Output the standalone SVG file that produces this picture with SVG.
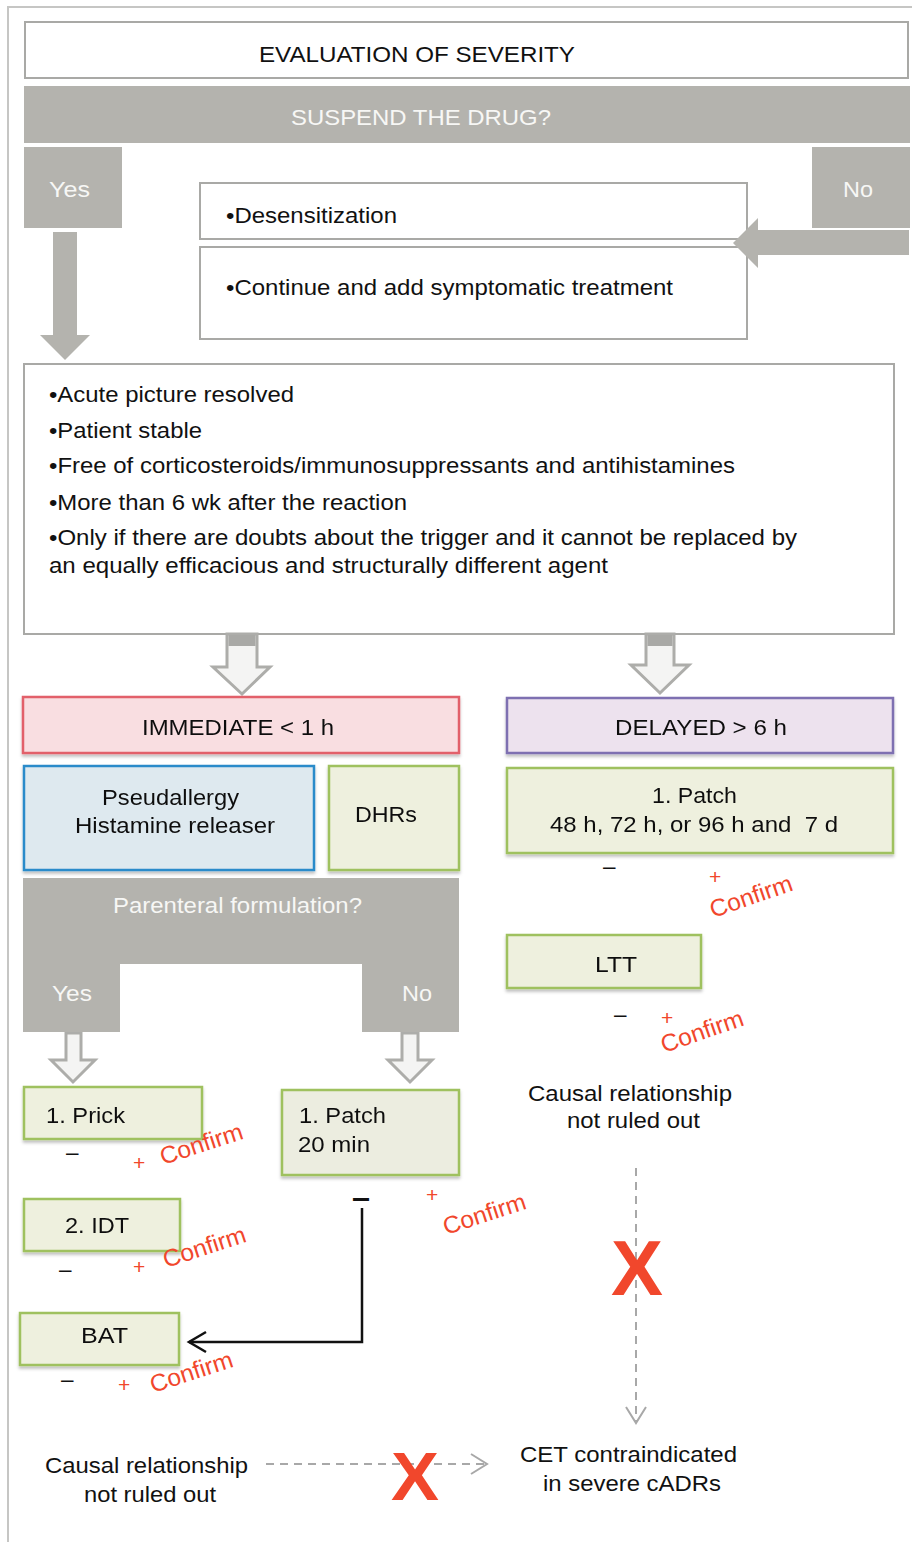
<svg xmlns="http://www.w3.org/2000/svg" width="912" height="1542" viewBox="0 0 912 1542">
<defs>
<style>
.t{font-family:"Liberation Sans",Arial,Helvetica,sans-serif;font-size:22.5px;fill:#111}
.tw{font-family:"Liberation Sans",Arial,Helvetica,sans-serif;font-size:22.5px;fill:#f7f7f5}
.red{font-family:"Liberation Sans",Arial,Helvetica,sans-serif;font-size:24px;fill:#f1472c}
.pl{font-family:"Liberation Sans",Arial,Helvetica,sans-serif;font-size:21px;fill:#f1472c}
.bx{font-family:"Liberation Sans",Arial,Helvetica,sans-serif;font-weight:bold;fill:#f1472c}
.wbox{fill:#fff;stroke:#a9a9a6;stroke-width:2}
.gbar{fill:#b4b3ae}
.green{fill:#eef0de;stroke:#9fc15e;stroke-width:2.5}
.hollow{fill:#f4f4f3;stroke:#adadaa;stroke-width:3;stroke-linejoin:miter}
.dash{fill:none;stroke:#a8a8a8;stroke-width:2;stroke-dasharray:8 6}
</style>
<filter id="sh" x="-10%" y="-10%" width="120%" height="130%">
<feDropShadow dx="0" dy="2.5" stdDeviation="1.5" flood-color="#000" flood-opacity="0.25"/>
</filter>
<marker id="blk" markerUnits="userSpaceOnUse" markerWidth="22" markerHeight="24" viewBox="0 0 22 24" refX="19" refY="12" orient="auto">
<path d="M2,2 L19,12 L2,22" fill="none" stroke="#111" stroke-width="2.5"/>
</marker>
<marker id="gry" markerUnits="userSpaceOnUse" markerWidth="20" markerHeight="24" viewBox="0 0 20 24" refX="17" refY="12" orient="auto">
<path d="M1,2 L17,12 L1,22" fill="none" stroke="#a8a8a8" stroke-width="2"/>
</marker>
</defs>

<rect width="912" height="1542" fill="#fff"/>
<path d="M912,7 H8 V1542" fill="none" stroke="#c6c6c4" stroke-width="2"/>

<g id="evaluation">
<rect class="wbox" x="25" y="22" width="883" height="56"/>
<text class="t" x="259" y="62" textLength="316" lengthAdjust="spacingAndGlyphs">EVALUATION OF SEVERITY</text>
</g>

<g id="suspend">
<rect class="gbar" x="24" y="86" width="886" height="57"/>
<text class="tw" x="291" y="125" textLength="260" lengthAdjust="spacingAndGlyphs">SUSPEND THE DRUG?</text>
</g>

<g id="yes-top">
<rect class="gbar" x="24" y="147" width="98" height="81"/>
<text class="tw" x="49" y="197" textLength="41" lengthAdjust="spacingAndGlyphs">Yes</text>
</g>

<g id="no-top">
<rect class="gbar" x="812" y="147" width="98" height="81"/>
<text class="tw" x="843" y="197" textLength="30" lengthAdjust="spacingAndGlyphs">No</text>
</g>

<g id="desensitization">
<rect class="wbox" x="200" y="183" width="547" height="56"/>
<text class="t" x="226" y="223" textLength="171" lengthAdjust="spacingAndGlyphs">•Desensitization</text>
</g>

<g id="continue">
<rect class="wbox" x="200" y="247" width="547" height="92"/>
<text class="t" x="226" y="295" textLength="447" lengthAdjust="spacingAndGlyphs">•Continue and add symptomatic treatment</text>
</g>

<g id="criteria">
<rect class="wbox" x="24" y="364" width="870" height="270"/>
<text class="t" x="49" y="402" textLength="245" lengthAdjust="spacingAndGlyphs">•Acute picture resolved</text>
<text class="t" x="49" y="438" textLength="153" lengthAdjust="spacingAndGlyphs">•Patient stable</text>
<text class="t" x="49" y="473" textLength="686" lengthAdjust="spacingAndGlyphs">•Free of corticosteroids/immunosuppressants and antihistamines</text>
<text class="t" x="49" y="510" textLength="358" lengthAdjust="spacingAndGlyphs">•More than 6 wk after the reaction</text>
<text class="t" x="49" y="545" textLength="748" lengthAdjust="spacingAndGlyphs">•Only if there are doubts about the trigger and it cannot be replaced by</text>
<text class="t" x="49" y="573" textLength="559" lengthAdjust="spacingAndGlyphs">an equally efficacious and structurally different agent</text>
</g>

<g id="connectors">
<path d="M53,232 H77 V335 H90 L65,360 L40,335 H53 Z" fill="#b4b3ae"/>
<path d="M909,230 V255 H758 V268 L733,243 L758,218 V230 Z" fill="#b4b3ae"/>
<path class="hollow" d="M227,634 H257 V667 H270 L242,694 L213,667 H227 Z"/>
<rect x="228.5" y="635" width="27" height="11" fill="#a9a9a6"/>
<path class="hollow" d="M646,634 H674 V665 H689 L660,693 L631,665 H646 Z"/>
<rect x="647.5" y="635" width="25" height="11" fill="#a9a9a6"/>
<path class="hollow" d="M66,1033 H81 V1060 H95 L73,1082 L51,1060 H66 Z"/>
<path class="hollow" d="M402,1033 H418 V1060 H432 L410,1082 L388,1060 H402 Z"/>
<polyline points="362,1208 362,1342 189,1342" fill="none" stroke="#111" stroke-width="2.5" marker-end="url(#blk)"/>
<line class="dash" x1="636" y1="1168" x2="636" y2="1423" marker-end="url(#gry)"/>
<line class="dash" x1="266" y1="1464" x2="487" y2="1464" marker-end="url(#gry)"/>
</g>

<g id="immediate" filter="url(#sh)">
<rect x="23" y="697" width="436" height="56" fill="#f9dee1" stroke="#e2606a" stroke-width="2.5"/>
<text class="t" x="142" y="735" textLength="192" lengthAdjust="spacingAndGlyphs">IMMEDIATE &lt; 1 h</text>
</g>

<g id="pseudallergy" filter="url(#sh)">
<rect x="24" y="766" width="290" height="104" fill="#dee9ef" stroke="#2c8bca" stroke-width="2.5"/>
<text class="t" x="102" y="805" textLength="137" lengthAdjust="spacingAndGlyphs">Pseudallergy</text>
<text class="t" x="75" y="833" textLength="200" lengthAdjust="spacingAndGlyphs">Histamine releaser</text>
</g>

<g id="dhrs" filter="url(#sh)">
<rect class="green" x="329" y="766" width="130" height="104"/>
<text class="t" x="355" y="822" textLength="62" lengthAdjust="spacingAndGlyphs">DHRs</text>
</g>

<g id="parenteral">
<path class="gbar" d="M23,878 H459 V1032 H362 V964 H120 V1032 H23 Z"/>
<text class="tw" x="113" y="913" textLength="249" lengthAdjust="spacingAndGlyphs">Parenteral formulation?</text>
<text class="tw" x="52" y="1001" textLength="40" lengthAdjust="spacingAndGlyphs">Yes</text>
<text class="tw" x="402" y="1001" textLength="30" lengthAdjust="spacingAndGlyphs">No</text>
</g>

<g id="prick" filter="url(#sh)">
<rect class="green" x="24" y="1087" width="178" height="52"/>
<text class="t" x="46" y="1123" textLength="79" lengthAdjust="spacingAndGlyphs">1. Prick</text>
</g>
<g id="prick-results">
<text class="t" x="66" y="1160">–</text>
<text class="pl" x="133" y="1170">+</text>
<text class="red" transform="translate(163,1165) rotate(-18)" textLength="86" lengthAdjust="spacingAndGlyphs">Confirm</text>
</g>

<g id="patch20" filter="url(#sh)">
<rect x="282" y="1090" width="177" height="85" fill="#ecede0" stroke="#9fc15e" stroke-width="2.5"/>
<text class="t" x="299" y="1123" textLength="87" lengthAdjust="spacingAndGlyphs">1. Patch</text>
<text class="t" x="298" y="1152" textLength="72" lengthAdjust="spacingAndGlyphs">20 min</text>
</g>
<g id="patch20-results">
<text class="t" x="352" y="1208" style="font-weight:bold;font-size:30px" textLength="18" lengthAdjust="spacingAndGlyphs">–</text>
<text class="pl" x="426" y="1202">+</text>
<text class="red" transform="translate(446,1235) rotate(-18)" textLength="86" lengthAdjust="spacingAndGlyphs">Confirm</text>
</g>

<g id="idt" filter="url(#sh)">
<rect class="green" x="24" y="1199" width="156" height="52"/>
<text class="t" x="65" y="1233" textLength="64" lengthAdjust="spacingAndGlyphs">2. IDT</text>
</g>
<g id="idt-results">
<text class="t" x="59" y="1277">–</text>
<text class="pl" x="133" y="1274">+</text>
<text class="red" transform="translate(166,1268) rotate(-18)" textLength="86" lengthAdjust="spacingAndGlyphs">Confirm</text>
</g>

<g id="bat" filter="url(#sh)">
<rect class="green" x="20" y="1313" width="159" height="52"/>
<text class="t" x="81" y="1343" textLength="47" lengthAdjust="spacingAndGlyphs">BAT</text>
</g>
<g id="bat-results">
<text class="t" x="61" y="1387">–</text>
<text class="pl" x="118" y="1392">+</text>
<text class="red" transform="translate(153,1393) rotate(-18)" textLength="86" lengthAdjust="spacingAndGlyphs">Confirm</text>
</g>

<g id="delayed" filter="url(#sh)">
<rect x="507" y="698" width="386" height="55" fill="#ede2ee" stroke="#7e6fb1" stroke-width="2.5"/>
<text class="t" x="615" y="735" textLength="172" lengthAdjust="spacingAndGlyphs">DELAYED &gt; 6 h</text>
</g>

<g id="patch-delayed" filter="url(#sh)">
<rect class="green" x="507" y="768" width="386" height="85"/>
<text class="t" x="652" y="803" textLength="85" lengthAdjust="spacingAndGlyphs">1. Patch</text>
<text class="t" x="550" y="832" textLength="288" lengthAdjust="spacingAndGlyphs" xml:space="preserve">48 h, 72 h, or 96 h and  7 d</text>
</g>
<g id="patch-delayed-results">
<text class="t" x="603" y="874">–</text>
<text class="pl" x="709" y="884">+</text>
<text class="red" transform="translate(713,918) rotate(-19)" textLength="86" lengthAdjust="spacingAndGlyphs">Confirm</text>
</g>

<g id="ltt" filter="url(#sh)">
<rect class="green" x="507" y="935" width="194" height="53"/>
<text class="t" x="595" y="972" textLength="42" lengthAdjust="spacingAndGlyphs">LTT</text>
</g>
<g id="ltt-results">
<text class="t" x="614" y="1022">–</text>
<text class="pl" x="661" y="1025">+</text>
<text class="red" transform="translate(664,1053) rotate(-19)" textLength="86" lengthAdjust="spacingAndGlyphs">Confirm</text>
</g>

<g id="causal-right">
<text class="t" x="528" y="1101" textLength="204" lengthAdjust="spacingAndGlyphs">Causal relationship</text>
<text class="t" x="567" y="1128" textLength="133" lengthAdjust="spacingAndGlyphs">not ruled out</text>
</g>

<g id="causal-left">
<text class="t" x="45" y="1473" textLength="203" lengthAdjust="spacingAndGlyphs">Causal relationship</text>
<text class="t" x="84" y="1502" textLength="132" lengthAdjust="spacingAndGlyphs">not ruled out</text>
</g>

<g id="cet">
<text class="t" x="520" y="1462" textLength="217" lengthAdjust="spacingAndGlyphs">CET contraindicated</text>
<text class="t" x="543" y="1491" textLength="178" lengthAdjust="spacingAndGlyphs">in severe cADRs</text>
</g>

<g id="x-marks">
<text class="bx" x="611" y="1295" style="font-size:78px" textLength="52" lengthAdjust="spacingAndGlyphs">X</text>
<text class="bx" x="391" y="1500" style="font-size:69px" textLength="48" lengthAdjust="spacingAndGlyphs">X</text>
</g>
</svg>
